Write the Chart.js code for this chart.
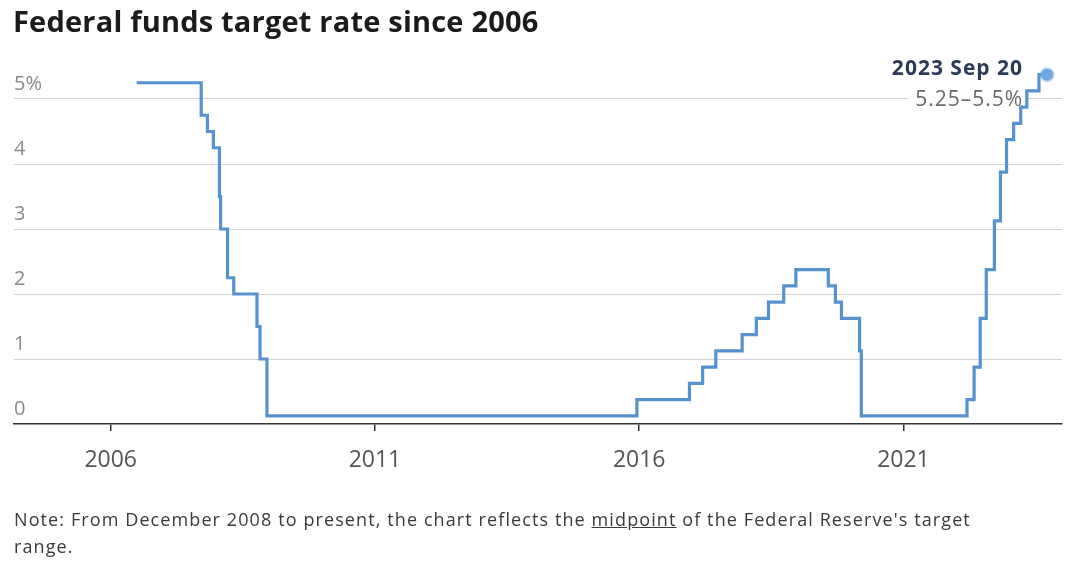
<!DOCTYPE html>
<html>
<head>
<meta charset="utf-8">
<script src="https://cdn.jsdelivr.net/npm/chart.js@4.4.0/dist/chart.umd.min.js"></script>
<style>
  html, body { margin: 0; padding: 0; background: #fff; }
  body { width: 1080px; height: 566px; position: relative; overflow: hidden; font-family: "Open Sans", Lato, sans-serif; }
  #title { position: absolute; left: 13px; top: 1px; font-size: 29px; font-weight: 700; color: #1b1b1b; letter-spacing: 0.2px; }
  #chartBox { position: absolute; left: 0; top: 0; width: 1080px; height: 566px; }
  #note { position: absolute; left: 14px; top: 506px; font-size: 18px; line-height: 27px; color: #3a3a3a; letter-spacing: 1.1px; }
</style>
</head>
<body>
<div id="chartBox"><canvas id="rateChart" width="1080" height="566"></canvas></div>
<div id="title">Federal funds target rate since 2006</div>
<div id="note">Note: From December 2008 to present, the chart reflects the <u>midpoint</u> of the Federal Reserve's target<br>range.</div>
<script>
// target rate changes (midpoint of range after Dec 2008)
const rateDates = [
  '2006-06-29', '2007-09-18', '2007-10-31', '2007-12-11', '2008-01-22', '2008-01-30',
  '2008-03-18', '2008-04-30', '2008-10-08', '2008-10-29', '2008-12-16', '2015-12-16',
  '2016-12-14', '2017-03-15', '2017-06-14', '2017-12-13', '2018-03-21', '2018-06-13',
  '2018-09-26', '2018-12-19', '2019-07-31', '2019-09-18', '2019-10-30', '2020-03-03',
  '2020-03-15', '2022-03-16', '2022-05-04', '2022-06-15', '2022-07-27', '2022-09-21',
  '2022-11-02', '2022-12-14', '2023-02-01', '2023-03-22', '2023-05-03', '2023-07-26',
  '2023-09-20'
];
const rateValues = [
  5.25, 4.75, 4.5, 4.25, 3.5, 3.0,
  2.25, 2.0, 1.5, 1.0, 0.125, 0.375,
  0.625, 0.875, 1.125, 1.375, 1.625, 1.875,
  2.125, 2.375, 2.125, 1.875, 1.625, 1.125,
  0.125, 0.375, 0.875, 1.625, 2.375, 3.125,
  3.875, 4.375, 4.625, 4.875, 5.125, 5.375,
  5.375
];
const xTickYears = [2006, 2011, 2016, 2021];
const yTickValues = [0, 1, 2, 3, 4, 5];
const yTickLabels = ['0', '1', '2', '3', '4', '5%'];
const endDateLabel = '2023 Sep 20';
const endRangeLabel = '5.25–5.5%';

function toYear(s) {
    const d = new Date(s + 'T00:00:00Z');
    const y = d.getUTCFullYear();
    const start = Date.UTC(y, 0, 1);
    const end = Date.UTC(y + 1, 0, 1);
    return y + (d.getTime() - start) / (end - start);
}

const points = rateDates.map((s, i) => ({ x: toYear(s), y: rateValues[i] }));
const lastIndex = points.length - 1;

const endLabel = {
    id: 'endLabel',
    beforeDatasetsDraw(chart) {
        const ctx = chart.ctx;
        const pt = chart.getDatasetMeta(0).data[lastIndex];
        const right = pt.x - 25;
        ctx.save();
        ctx.font = '21px "Open Sans", sans-serif';
        ctx.letterSpacing = '1px';
        const w = ctx.measureText(endRangeLabel).width;
        ctx.fillStyle = '#ffffff';
        ctx.fillRect(right - w - 6, pt.y + 13, w + 10, 25);
        ctx.restore();
    },
    afterDatasetsDraw(chart) {
        const ctx = chart.ctx;
        const pt = chart.getDatasetMeta(0).data[lastIndex];
        const right = pt.x - 25;
        ctx.save();
        ctx.textAlign = 'right';
        ctx.textBaseline = 'middle';
        ctx.letterSpacing = '1px';
        ctx.font = '700 21px "Open Sans", sans-serif';
        ctx.fillStyle = '#2b3a56';
        ctx.fillText(endDateLabel, right + 1, pt.y - 6);
        ctx.font = '21px "Open Sans", sans-serif';
        ctx.fillStyle = '#6a6a6a';
        ctx.fillText(endRangeLabel, right + 1, pt.y + 25);
        ctx.restore();
    }
};

const ctx = document.getElementById('rateChart').getContext('2d');
new Chart(ctx, {
    type: 'line',
    data: {
        datasets: [{
            data: points,
            stepped: true,
            borderColor: 'rgb(86, 147, 206)',
            borderWidth: 3.2,
            fill: false,
            pointRadius: c => c.dataIndex === lastIndex ? 6 : 0,
            pointBackgroundColor: 'rgb(112, 167, 222)',
            pointBorderColor: 'rgba(112, 167, 222, 0.45)',
            pointBorderWidth: 3,
            pointHoverRadius: 0
        }]
    },
    options: {
        responsive: false,
        animation: false,
        events: [],
        layout: { padding: { left: 14, right: 18, top: 60, bottom: 0 } },
        plugins: {
            legend: { display: false },
            tooltip: { enabled: false }
        },
        scales: {
            x: {
                type: 'linear',
                min: 2004.17,
                max: 2024.0,
                afterBuildTicks: s => { s.ticks = xTickYears.map(v => ({ value: v })); },
                afterFit: s => { s.height = 142; },
                grid: { drawOnChartArea: false, drawTicks: true, tickLength: 7, color: '#333', lineWidth: 1.5 },
                border: { display: true, color: '#333', width: 1.5 },
                ticks: {
                    color: '#555',
                    font: { family: '"Open Sans"', size: 23 },
                    padding: 16,
                    maxRotation: 0,
                    callback: v => String(v)
                }
            },
            y: {
                min: 0,
                max: 5.6,
                afterBuildTicks: s => { s.ticks = yTickValues.map(v => ({ value: v })); },
                afterFit: s => { s.width = 0; },
                grid: {
                    drawTicks: false,
                    color: c => c.tick && c.tick.value === 0 ? 'rgba(0,0,0,0)' : '#d2d2d2',
                    lineWidth: 1
                },
                border: { display: false },
                ticks: {
                    mirror: true,
                    padding: 0,
                    labelOffset: -15,
                    color: '#8a8a8a',
                    font: { family: '"Open Sans"', size: 20 },
                    callback: (v, i) => yTickLabels[yTickValues.indexOf(v)]
                }
            }
        }
    },
    plugins: [endLabel]
});
</script>
</body>
</html>
